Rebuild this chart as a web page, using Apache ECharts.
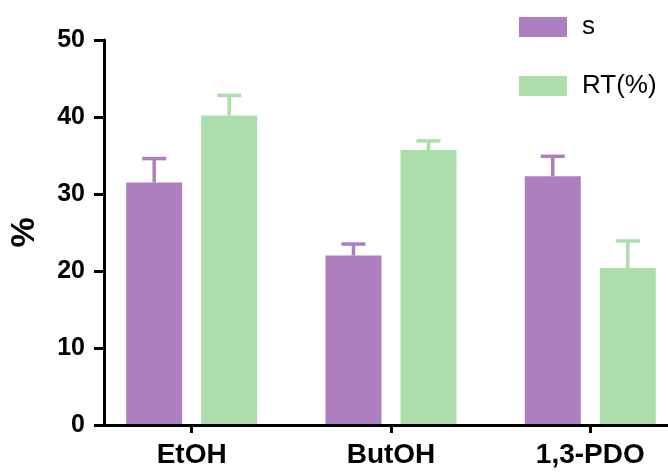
<!DOCTYPE html>
<html>
<head>
<meta charset="utf-8">
<script src="https://cdn.jsdelivr.net/npm/echarts@6/dist/echarts.min.js"></script>
<style>
html,body{margin:0;padding:0;background:#fff;}
#chart{width:668px;height:472px;}
</style>
</head>
<body>
<div id="chart"></div>
<script>
var categories = ['EtOH', 'ButOH', '1,3-PDO'];
var sValues = [31.5, 22.0, 32.3];
var sErrors = [3.1, 1.5, 2.6];
var rtValues = [40.2, 35.7, 20.4];
var rtErrors = [2.6, 1.2, 3.5];
var seriesNames = ['s', 'RT(%)'];

var PURPLE = '#ae7fbe';
var GREEN = '#abdeab';
var BAR_W = 56;
var BAR_GAP = 19;
var FONT = 'Arial, "Liberation Sans", sans-serif';
var catIdx = categories.map(function (c, i) { return i; });

function barData(values) {
  return values.map(function (v, i) { return [i, v]; });
}

function errorSeries(name, values, errors, color, side) {
  var data = values.map(function (v, i) { return [i, v, v + errors[i]]; });
  return {
    type: 'custom',
    name: name,
    data: data,
    z: 3,
    silent: true,
    encode: { x: 0, y: [1, 2] },
    renderItem: function (params, api) {
      var i = api.value(0);
      var p0 = api.coord([i, api.value(1)]);
      var p1 = api.coord([i, api.value(2)]);
      var x = p0[0] + side * (BAR_W + BAR_GAP) / 2;
      var style = { stroke: color, lineWidth: 3.5 };
      return {
        type: 'group',
        children: [
          { type: 'line', shape: { x1: x, y1: p0[1], x2: x, y2: p1[1] }, style: style },
          { type: 'line', shape: { x1: x - 12, y1: p1[1], x2: x + 12, y2: p1[1] }, style: style }
        ]
      };
    }
  };
}

var chart = echarts.init(document.getElementById('chart'), null, { renderer: 'canvas' });
chart.setOption({
  animation: false,
  backgroundColor: '#fff',
  textStyle: { fontFamily: FONT },
  legend: {
    orient: 'vertical',
    left: 514,
    top: 9,
    itemWidth: 48,
    itemHeight: 20,
    itemGap: 33,
    icon: 'rect',
    data: seriesNames,
    textStyle: { fontSize: 26, color: '#000', fontFamily: FONT, padding: [0, 0, 0, 10] }
  },
  grid: { left: 100, top: 40, right: 0, height: 385, containLabel: false },
  xAxis: {
    type: 'value',
    min: -0.44,
    max: 2.39,
    z: 10,
    splitLine: { show: false },
    axisLine: { show: true, onZero: false, lineStyle: { color: '#000', width: 3 } },
    axisTick: { show: true, customValues: catIdx, length: 8, lineStyle: { color: '#000', width: 3 } },
    axisLabel: {
      show: true,
      customValues: catIdx,
      color: '#000', fontSize: 28, fontWeight: 'bold', margin: 16, fontFamily: FONT,
      formatter: function (v) { return categories[Math.round(v)] || ''; }
    }
  },
  yAxis: {
    type: 'value',
    min: 0,
    max: 50,
    interval: 10,
    z: 10,
    name: '%',
    nameLocation: 'middle',
    nameGap: 62,
    nameTextStyle: { color: '#000', fontSize: 34, fontWeight: 'bold', fontFamily: FONT },
    axisLine: { show: true, onZero: false, lineStyle: { color: '#000', width: 3 } },
    axisTick: { show: true, length: 10, lineStyle: { color: '#000', width: 3 } },
    axisLabel: { color: '#000', fontSize: 25, fontWeight: 'bold', margin: 19, fontFamily: FONT },
    splitLine: { show: false }
  },
  series: [
    {
      type: 'bar', name: seriesNames[0], data: barData(sValues),
      barWidth: BAR_W, barGap: (BAR_GAP / BAR_W * 100) + '%',
      itemStyle: { color: PURPLE }
    },
    {
      type: 'bar', name: seriesNames[1], data: barData(rtValues),
      barWidth: BAR_W, barGap: (BAR_GAP / BAR_W * 100) + '%',
      itemStyle: { color: GREEN }
    },
    errorSeries(seriesNames[0], sValues, sErrors, PURPLE, -1),
    errorSeries(seriesNames[1], rtValues, rtErrors, GREEN, 1)
  ]
});
</script>
</body>
</html>
